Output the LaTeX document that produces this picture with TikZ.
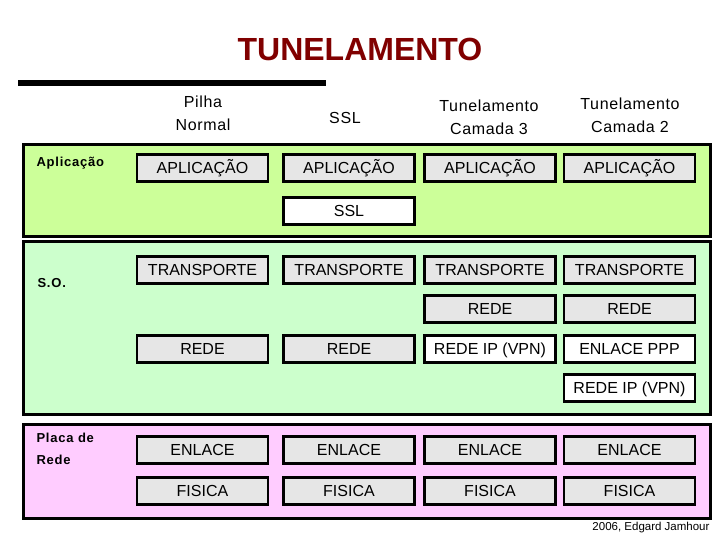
\documentclass[tikz,border=0pt]{standalone}
\usepackage{fontspec}
\setmainfont{Liberation Sans}
\usepackage{xcolor}
\usepackage{tikz}
\usetikzlibrary{positioning}
\definecolor{titlered}{RGB}{128, 0, 0}
\definecolor{appgreen}{RGB}{204, 255, 153}
\definecolor{sogreen}{RGB}{204, 255, 204}
\definecolor{nicpink}{RGB}{255, 204, 255}
\definecolor{boxgray}{RGB}{230, 230, 230}

\begin{document}
\begin{tikzpicture}[
    x=1pt, y=-1pt,
    layer/.style={draw=black, line width=3pt},
    proto/.style={rectangle, draw=black, line width=2.6pt, fill=boxgray, minimum width=131pt, minimum height=27pt, inner sep=0pt, outer sep=0pt, text height=11.5pt, text depth=0pt, font=\fontsize{16}{18}\selectfont},
    tunnel/.style={proto, fill=white},
    colhead/.style={align=center, font=\fontsize{16}{23}\selectfont\addfontfeatures{LetterSpace=4}},
    rowlabel/.style={anchor=west, align=left, font=\bfseries\fontsize{13}{22}\selectfont\addfontfeatures{LetterSpace=6}}
]
\useasboundingbox (0,0) rectangle (720,540);

% title and bar
\node[font=\bfseries\fontsize{32}{36}\selectfont, text=titlered] (title) at (360,49) {TUNELAMENTO};
\draw[line width=5.5pt] (18,83) -- (326,83);

% layers
\draw[layer, fill=appgreen] (23,145) rectangle (710,236);
\draw[layer, fill=sogreen] (23,241) rectangle (710,414);
\draw[layer, fill=nicpink] (23,424) rectangle (710,518);

\node[rowlabel] (lapp) at (33,163) {Aplicação};
\node[rowlabel] (lso) at (34,283) {S.O.};
\node[rowlabel] (lnic) at (33,449) {Placa de\\Rede};

% column headers
\node[colhead] (h1) at (203,113) {Pilha\\Normal};
\node[colhead] (h2) at (345,118) {SSL};
\node[colhead] (h3) at (489,117) {Tunelamento\\Camada 3};
\node[colhead] (h4) at (630,115) {Tunelamento\\Camada 2};

% Pilha Normal
\node[proto] (app1) at (202.5,168) {APLICAÇÃO};
\node[proto] (tr1) at (202.5,270) {TRANSPORTE};
\node[proto] (rede1) at (202.5,349) {REDE};
\node[proto] (enl1) at (202.5,450) {ENLACE};
\node[proto, below=14pt of enl1] (fis1) {FISICA};

% SSL
\node[proto] (app2) at (349,168) {APLICAÇÃO};
\node[tunnel, below=16pt of app2] (ssl2) {SSL};
\node[proto] (tr2) at (349,270) {TRANSPORTE};
\node[proto] (rede2) at (349,349) {REDE};
\node[proto] (enl2) at (349,450) {ENLACE};
\node[proto, below=14pt of enl2] (fis2) {FISICA};

% Tunelamento Camada 3
\node[proto] (app3) at (490,168) {APLICAÇÃO};
\node[proto] (tr3) at (490,270) {TRANSPORTE};
\node[proto, below=12pt of tr3] (rede3) {REDE};
\node[tunnel, below=13pt of rede3] (vpn3) {REDE IP (VPN)};
\node[proto] (enl3) at (490,450) {ENLACE};
\node[proto, below=14pt of enl3] (fis3) {FISICA};

% Tunelamento Camada 2
\node[proto] (app4) at (629.5,168) {APLICAÇÃO};
\node[proto] (tr4) at (629.5,270) {TRANSPORTE};
\node[proto, below=12pt of tr4] (rede4) {REDE};
\node[tunnel, below=13pt of rede4] (ppp4) {ENLACE PPP};
\node[tunnel, below=12pt of ppp4] (vpn4) {REDE IP (VPN)};
\node[proto] (enl4) at (629.5,450) {ENLACE};
\node[proto, below=14pt of enl4] (fis4) {FISICA};

\node[anchor=east, font=\fontsize{11.5}{14}\selectfont] (credit) at (713,528) {2006, Edgard Jamhour};
\end{tikzpicture}
\end{document}
